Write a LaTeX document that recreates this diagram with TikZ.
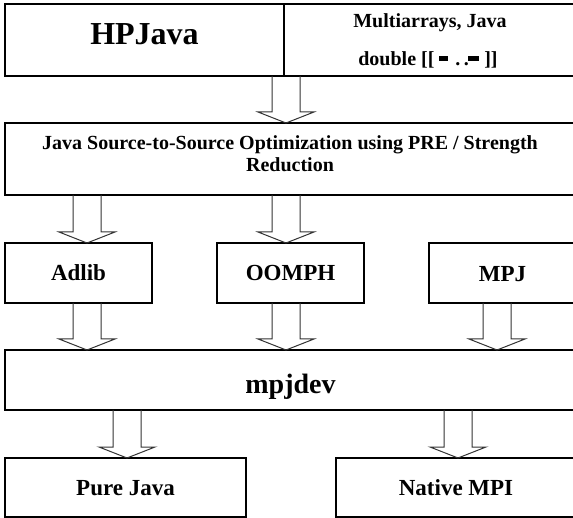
\documentclass[tikz,border=0pt]{standalone}
\usepackage{fontspec}
\setmainfont{Liberation Serif}
\usetikzlibrary{calc}
\tikzset{
  box/.style={draw, line width=1.6pt, inner sep=0pt, outer sep=0pt},
  lbl/.style={anchor=base, inner sep=0pt, outer sep=0pt},
  big/.style={font=\bfseries\fontsize{32}{38}\selectfont},
  mid/.style={font=\bfseries\fontsize{23}{27}\selectfont},
  dev/.style={font=\bfseries\fontsize{28}{33}\selectfont},
  small/.style={font=\bfseries\fontsize{20}{24}\selectfont},
  blockarr/.style={draw=black!80, line width=1pt, line join=miter},
}
\newcommand{\blockarrow}[3]{%
  \draw[blockarr] let \p1=(#2.south), \p2=(#3.north) in
   (#1pt-14pt,\y1) -- (#1pt-14pt,\y2+11pt) -- (#1pt-28pt,\y2+11pt) -- (#1pt,\y2)
   -- (#1pt+28pt,\y2+11pt) -- (#1pt+14pt,\y2+11pt) -- (#1pt+14pt,\y1);}
\begin{document}
\begin{tikzpicture}[x=1pt,y=-1pt]
  \useasboundingbox (0,0) rectangle (573,518);
  \fill[white] (0,0) rectangle (573,518);
  \clip (0,0) rectangle (573,518);
  % boxes
  \node[box, minimum width=279pt, minimum height=72pt] (hp) at (144.5,40) {};
  \node[box, minimum width=292pt, minimum height=72pt] (ma) at (430,40) {};
  \node[box, minimum width=571pt, minimum height=72pt] (opt) at (290.5,159) {};
  \node[box, minimum width=147pt, minimum height=60pt] (adlib) at (78.5,273) {};
  \node[box, minimum width=147pt, minimum height=60pt] (oomph) at (290.5,273) {};
  \node[box, minimum width=147pt, minimum height=60pt] (mpj) at (502.5,273) {};
  \node[box, minimum width=571pt, minimum height=60pt] (dev) at (290.5,380) {};
  \node[box, minimum width=241pt, minimum height=59pt] (pure) at (125.5,487.5) {};
  \node[box, minimum width=240pt, minimum height=59pt] (native) at (456,487.5) {};
  % labels
  \node[lbl, big] (hpL) at (144.5,45) {HPJava};
  \node[lbl, small] (maL1) at (430,28) {Multiarrays, Java};
  \node[lbl, small] (maL2) at (428,66) {double [[ \rule[5pt]{9pt}{5pt}\hspace{7pt}.\,.\hspace{-0.5pt}\rule[5pt]{11pt}{5pt} ]]};
  \node[lbl, small] (optL1) at (290,150) {Java Source-to-Source Optimization using PRE / Strength};
  \node[lbl, small] (optL2) at (290,172) {Reduction};
  \node[lbl, mid] (adlibL) at (78.5,281) {Adlib};
  \node[lbl, mid] (oomphL) at (290.5,281) {OOMPH};
  \node[lbl, mid] (mpjL) at (502.5,282) {MPJ};
  \node[lbl, dev] (devL) at (290.5,394) {mpjdev};
  \node[lbl, mid] (pureL) at (125.5,495) {Pure Java};
  \node[lbl, mid] (nativeL) at (456,495) {Native MPI};
  % block arrows
  \blockarrow{286}{hp}{opt}
  \blockarrow{87}{opt}{adlib}
  \blockarrow{286}{opt}{oomph}
  \blockarrow{87}{adlib}{dev}
  \blockarrow{286}{oomph}{dev}
  \blockarrow{497}{mpj}{dev}
  \blockarrow{127}{dev}{pure}
  \blockarrow{458}{dev}{native}
\end{tikzpicture}
\end{document}
